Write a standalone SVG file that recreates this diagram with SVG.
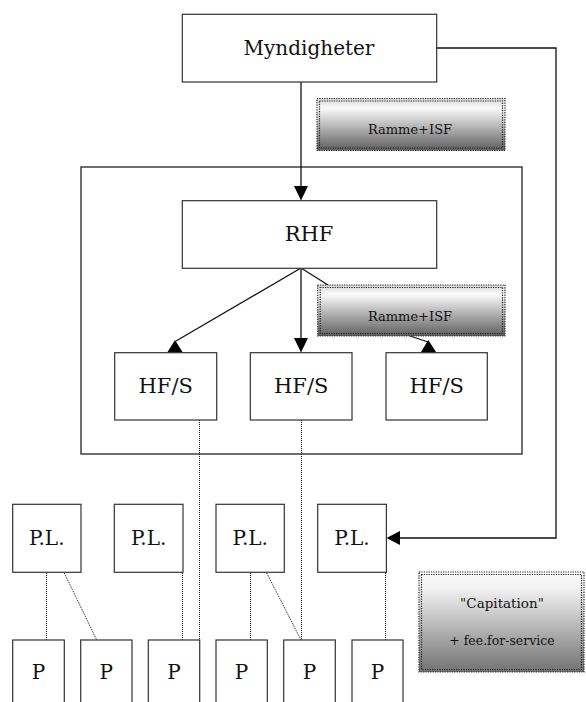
<svg xmlns="http://www.w3.org/2000/svg" width="586" height="702" viewBox="0 0 586 702">
<style>
.box{fill:#fff;stroke:#333;stroke-width:1.2}
.t{font-family:"DejaVu Serif","Liberation Serif",serif;fill:#111;text-anchor:middle}
.big{font-size:20px}
.hf{font-size:21px}
.mid{font-size:20px}
.sm{font-size:13px}
.xs{font-size:12.5px}
.cap{font-size:13.5px}
.ln{stroke:#111;stroke-width:1.3;fill:none}
.dot{stroke:#111;stroke-width:1;stroke-dasharray:1 1;fill:none}
.gb{fill:url(#g)}
.do{fill:none;stroke:#222;stroke-width:1.2;stroke-dasharray:1.2 1.2}
.ah{fill:#000}
</style>
<defs>
<linearGradient id="g" x1="0" y1="0" x2="0" y2="1">
<stop offset="0" stop-color="#d4d4d4"/>
<stop offset="0.18" stop-color="#fbfbfb"/>
<stop offset="1" stop-color="#5e5e5e"/>
</linearGradient>
<linearGradient id="g2" x1="0" y1="0" x2="0" y2="1">
<stop offset="0" stop-color="#fafafa"/>
<stop offset="0.15" stop-color="#f4f4f4"/>
<stop offset="1" stop-color="#727272"/>
</linearGradient>
</defs>
<rect width="586" height="702" fill="#fff"/>

<g id="container"><rect x="81" y="167" width="441" height="287" fill="none" stroke="#222" stroke-width="1.3"/></g>

<g id="connectors">
<line class="ln" x1="301" y1="82" x2="301" y2="187"/>
<polygon class="ah" points="294,186 308,186 301,200.5"/>
<polyline class="ln" points="437,48 556,48 556,538 399,538"/>
<polygon class="ah" points="400,531 400,545 386.5,538"/>
<line class="ln" x1="301" y1="268" x2="176" y2="341"/>
<polygon class="ah" points="175,340 167,352.7 183,352.7"/>
<line class="ln" x1="301" y1="268" x2="301" y2="340"/>
<polygon class="ah" points="294,338 308,338 301,352.5"/>
<line class="ln" x1="301" y1="268" x2="328" y2="285"/>
<line class="ln" x1="410" y1="336" x2="428" y2="342"/>
<polygon class="ah" points="428.3,340 420.5,352.7 436.5,352.7"/>
<line class="dot" x1="199.5" y1="420" x2="199.5" y2="640"/>
<line class="dot" x1="301.5" y1="420" x2="301.5" y2="640"/>
<line class="dot" x1="46.5" y1="573" x2="46.5" y2="640"/>
<line class="dot" x1="64.3" y1="573" x2="96.7" y2="640"/>
<line class="dot" x1="182.5" y1="573" x2="182.5" y2="640"/>
<line class="dot" x1="250.5" y1="573" x2="250.5" y2="640"/>
<line class="dot" x1="266.7" y1="573" x2="301" y2="640"/>
<line class="dot" x1="385.5" y1="573" x2="385.5" y2="640"/>
</g>

<g id="myndigheter"><rect class="box" x="182.3" y="14.3" width="254.4" height="67.7"/><text class="t big" x="309" y="54.5">Myndigheter</text></g>

<g id="ramme1"><rect class="gb" x="317" y="98.5" width="188" height="52"/><rect class="do" x="317" y="98.5" width="188" height="52"/><rect class="do" x="319.5" y="101" width="183" height="47"/><text class="t sm" x="410" y="134">Ramme+ISF</text></g>

<g id="rhf"><rect class="box" x="182.3" y="200.7" width="254.4" height="67.6"/><text class="t hf" x="309" y="240.5">RHF</text></g>

<g id="ramme2"><rect class="gb" x="317.7" y="285" width="187.3" height="51"/><rect class="do" x="317.7" y="285" width="187.3" height="51"/><rect class="do" x="320.2" y="287.5" width="182.3" height="46"/><text class="t sm" x="410" y="320.5">Ramme+ISF</text></g>

<g id="hfs1"><rect class="box" x="114.7" y="352.7" width="102" height="67.3"/><text class="t hf" x="165.7" y="393">HF/S</text></g>
<g id="hfs2"><rect class="box" x="250.3" y="352.7" width="101.7" height="67.3"/><text class="t hf" x="301.2" y="393">HF/S</text></g>
<g id="hfs3"><rect class="box" x="386" y="352.7" width="101.3" height="67.3"/><text class="t hf" x="436.7" y="393">HF/S</text></g>

<g id="pl1"><rect class="box" x="12.7" y="504.3" width="68.3" height="68"/><text class="t mid" x="46.8" y="544.5">P.L.</text></g>
<g id="pl2"><rect class="box" x="114.3" y="504.3" width="68.7" height="68"/><text class="t mid" x="148.6" y="544.5">P.L.</text></g>
<g id="pl3"><rect class="box" x="216" y="504.3" width="68.3" height="68"/><text class="t mid" x="250.2" y="544.5">P.L.</text></g>
<g id="pl4"><rect class="box" x="317.7" y="504.3" width="68.7" height="68"/><text class="t mid" x="352" y="544.5">P.L.</text></g>

<g id="capitation"><rect x="419" y="572" width="165" height="100" fill="url(#g2)"/><rect class="do" x="419" y="572" width="165" height="100"/><rect class="do" x="421.5" y="574.5" width="160" height="95"/><text class="t cap" x="502" y="608">"Capitation"</text><text class="t xs" x="502" y="645">+ fee.for-service</text></g>

<g id="p1"><rect class="box" x="12.7" y="640" width="51.6" height="80"/><text class="t mid" x="38.5" y="679">P</text></g>
<g id="p2"><rect class="box" x="80.7" y="640" width="51.3" height="80"/><text class="t mid" x="106.3" y="679">P</text></g>
<g id="p3"><rect class="box" x="148.3" y="640" width="51.4" height="80"/><text class="t mid" x="174" y="679">P</text></g>
<g id="p4"><rect class="box" x="216" y="640" width="51.3" height="80"/><text class="t mid" x="241.6" y="679">P</text></g>
<g id="p5"><rect class="box" x="283.7" y="640" width="51.6" height="80"/><text class="t mid" x="309.5" y="679">P</text></g>
<g id="p6"><rect class="box" x="352" y="640" width="51" height="80"/><text class="t mid" x="377.5" y="679">P</text></g>
</svg>
